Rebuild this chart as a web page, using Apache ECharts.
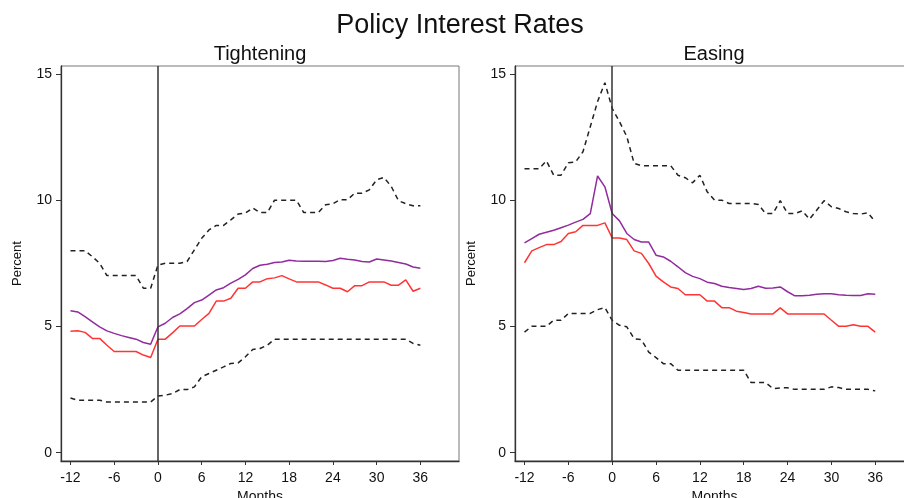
<!DOCTYPE html>
<html>
<head>
<meta charset="utf-8">
<script src="https://cdn.jsdelivr.net/npm/echarts@6/dist/echarts.min.js"></script>
<style>html,body{margin:0;padding:0;background:#fff}#c{width:904px;height:498px}</style>
</head>
<body>
<div id="c"></div>
<script>
const months = [-12,-11,-10,-9,-8,-7,-6,-5,-4,-3,-2,-1,0,1,2,3,4,5,6,7,8,9,10,11,12,13,14,15,16,17,18,19,20,21,22,23,24,25,26,27,28,29,30,31,32,33,34,35,36];
const xTicks = [-12,-6,0,6,12,18,24,30,36];
const yTicks = [0,5,10,15];

const tightPurple = [5.63,5.58,5.39,5.19,4.99,4.83,4.73,4.64,4.57,4.50,4.37,4.30,4.99,5.13,5.36,5.50,5.71,5.95,6.05,6.25,6.45,6.54,6.72,6.87,7.05,7.30,7.43,7.47,7.54,7.56,7.63,7.60,7.59,7.59,7.59,7.58,7.62,7.71,7.67,7.64,7.58,7.56,7.68,7.64,7.60,7.54,7.48,7.36,7.31];
const tightRed = [4.81,4.83,4.77,4.53,4.53,4.26,4.01,4.01,4.01,4.01,3.87,3.77,4.50,4.50,4.75,5.02,5.02,5.02,5.28,5.52,6.01,6.01,6.12,6.52,6.52,6.77,6.77,6.90,6.93,7.02,6.89,6.77,6.77,6.77,6.77,6.65,6.52,6.52,6.38,6.62,6.62,6.77,6.77,6.77,6.64,6.64,6.85,6.40,6.52];
const tightUpper = [8.01,8.01,8.01,7.77,7.51,7.02,7.02,7.02,7.02,7.02,6.52,6.52,7.44,7.51,7.51,7.51,7.58,8.04,8.50,8.83,9.01,9.01,9.23,9.46,9.50,9.70,9.52,9.52,10.01,10.01,10.01,10.01,9.52,9.52,9.52,9.83,9.87,10.03,10.03,10.29,10.29,10.42,10.82,10.91,10.56,9.99,9.87,9.79,9.79];
const tightLower = [2.17,2.08,2.08,2.08,2.08,2.01,2.01,2.01,2.01,2.01,2.01,2.01,2.25,2.28,2.34,2.50,2.50,2.61,3.01,3.14,3.27,3.40,3.54,3.56,3.80,4.09,4.13,4.26,4.50,4.50,4.50,4.50,4.50,4.50,4.50,4.50,4.50,4.50,4.50,4.50,4.50,4.50,4.50,4.50,4.50,4.50,4.50,4.33,4.26];

const easePurple = [8.32,8.49,8.66,8.74,8.82,8.92,9.02,9.14,9.25,9.48,10.97,10.54,9.48,9.19,8.69,8.45,8.35,8.35,7.83,7.76,7.59,7.37,7.14,6.99,6.90,6.76,6.71,6.60,6.55,6.51,6.47,6.51,6.60,6.52,6.53,6.57,6.38,6.22,6.22,6.24,6.28,6.30,6.30,6.26,6.24,6.23,6.23,6.30,6.28];
const easeRed = [7.53,8.00,8.13,8.25,8.25,8.37,8.69,8.76,9.01,9.01,9.01,9.11,8.51,8.51,8.45,8.00,7.90,7.50,7.00,6.77,6.57,6.51,6.26,6.26,6.26,6.01,6.01,5.75,5.75,5.61,5.56,5.50,5.50,5.50,5.50,5.74,5.50,5.50,5.50,5.50,5.50,5.50,5.25,5.01,5.01,5.07,5.01,5.01,4.78];
const easeUpper = [11.26,11.26,11.26,11.57,11.00,11.00,11.49,11.53,11.93,12.92,13.92,14.67,13.65,13.12,12.53,11.47,11.38,11.38,11.38,11.38,11.38,11.00,10.90,10.70,11.00,10.34,10.01,10.01,9.88,9.88,9.88,9.88,9.84,9.48,9.48,9.99,9.48,9.48,9.59,9.26,9.62,9.99,9.75,9.68,9.55,9.48,9.46,9.51,9.15];
const easeLower = [4.78,5.01,5.01,5.01,5.25,5.25,5.52,5.52,5.52,5.52,5.67,5.75,5.25,5.05,4.99,4.52,4.48,3.99,3.77,3.53,3.53,3.27,3.27,3.27,3.27,3.27,3.27,3.27,3.27,3.27,3.27,2.78,2.78,2.78,2.54,2.57,2.57,2.51,2.51,2.51,2.51,2.51,2.61,2.58,2.51,2.51,2.51,2.51,2.45];

const FONT = 'Liberation Sans, Arial, sans-serif';
const PURPLE = '#922b9e', RED = '#ff3535', DASH = '#222222';

function pairs(arr){ return months.map((m,i)=>[m,arr[i]]); }

function xAxis(gi){
  return {
    type:'value', gridIndex:gi, min:-13.3, max:41.3,
    axisLine:{show:true, onZero:false, lineStyle:{color:'#333', width:1.3}},
    axisTick:{show:true, length:4, lineStyle:{color:'#333'}, customValues:xTicks},
    axisLabel:{color:'#111', fontSize:14, fontFamily:FONT, margin:10, customValues:xTicks},
    splitLine:{show:false},
    name:'Months', nameLocation:'middle', nameGap:28,
    nameTextStyle:{color:'#111', fontSize:14, fontFamily:FONT}
  };
}
function yAxis(gi){
  return {
    type:'value', gridIndex:gi, min:-0.33, max:15.33,
    axisLine:{show:true, onZero:false, lineStyle:{color:'#333', width:1.3}},
    axisTick:{show:true, length:5, lineStyle:{color:'#333'}, customValues:yTicks},
    axisLabel:{color:'#111', fontSize:14, fontFamily:FONT, margin:9, customValues:yTicks},
    splitLine:{show:false},
    name:'Percent', nameLocation:'middle', nameGap:37, nameRotate:90,
    nameTextStyle:{color:'#111', fontSize:13, fontFamily:FONT}
  };
}
function line(gi, arr, color, dashed, mark){
  const s = {
    type:'line', xAxisIndex:gi, yAxisIndex:gi, data:pairs(arr),
    symbol:'none', smooth:false, silent:true,
    lineStyle:{color:color, width:1.5, type: dashed ? [5,4] : 'solid'},
    z: dashed ? 3 : 4
  };
  if (mark) {
    s.markLine = {
      silent:true, symbol:['none','none'], label:{show:false},
      lineStyle:{color:'#333', width:1.5, type:'solid'},
      data:[{xAxis:0}], animation:false
    };
  }
  return s;
}

const chart = echarts.init(document.getElementById('c'), null, {renderer:'canvas'});
chart.setOption({
  animation:false,
  backgroundColor:'#fff',
  title:[
    {text:'Policy Interest Rates', left:460, top:12, textAlign:'center', padding:0,
     textStyle:{fontSize:27, fontWeight:'normal', color:'#111', fontFamily:FONT}},
    {text:'Tightening', left:260, top:44, textAlign:'center', padding:0,
     textStyle:{fontSize:20, fontWeight:'normal', color:'#111', fontFamily:FONT}},
    {text:'Easing', left:714, top:44, textAlign:'center', padding:0,
     textStyle:{fontSize:20, fontWeight:'normal', color:'#111', fontFamily:FONT}}
  ],
  grid:[
    {left:61, top:66, width:398, height:395, show:true, borderColor:'#777', borderWidth:1, backgroundColor:'#fff', outerBoundsMode:'none', containLabel:false},
    {left:515, top:66, width:399, height:395, show:true, borderColor:'#777', borderWidth:1, backgroundColor:'#fff', outerBoundsMode:'none', containLabel:false}
  ],
  xAxis:[xAxis(0), xAxis(1)],
  yAxis:[yAxis(0), yAxis(1)],
  series:[
    line(0, tightUpper, DASH, true, true),
    line(0, tightLower, DASH, true),
    line(0, tightPurple, PURPLE, false),
    line(0, tightRed, RED, false),
    line(1, easeUpper, DASH, true, true),
    line(1, easeLower, DASH, true),
    line(1, easePurple, PURPLE, false),
    line(1, easeRed, RED, false)
  ]
});
</script>
</body>
</html>
